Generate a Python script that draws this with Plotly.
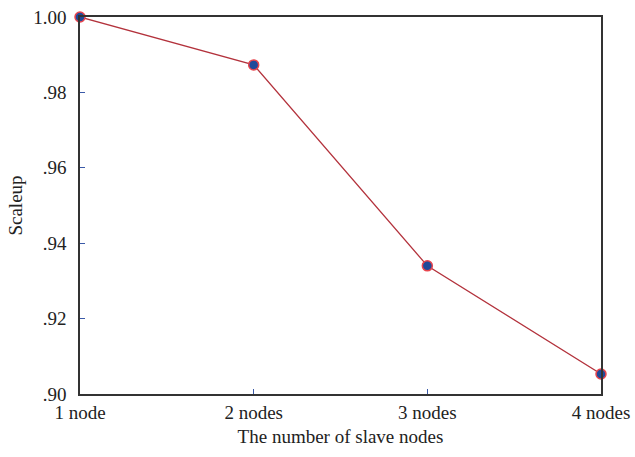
import plotly.graph_objects as go

# Scaleup measured for clusters with 1-4 slave nodes
node_counts = [1, 2, 3, 4]
node_labels = ["1 node", "2 nodes", "3 nodes", "4 nodes"]
scaleup = [1.000, 0.9873, 0.9340, 0.9053]

y_tick_vals = [0.90, 0.92, 0.94, 0.96, 0.98, 1.00]
y_tick_text = [".90", ".92", ".94", ".96", ".98", "1.00"]

FONT = "Liberation Serif, Times New Roman, serif"
TICK_BLUE = "#3a5aa8"
SIZE = 19

fig = go.Figure()

fig.add_trace(go.Scatter(
    x=node_counts, y=scaleup,
    mode="lines+markers",
    line=dict(color="#b3323c", width=1.3),
    marker=dict(size=10, color="#1f4a9a", line=dict(color="#e8454d", width=1.5)),
    cliponaxis=False,
    showlegend=False,
))

fig.update_layout(
    width=635, height=457,
    margin=dict(l=80, r=34, t=17, b=63),
    paper_bgcolor="white", plot_bgcolor="white",
    font=dict(family=FONT, size=SIZE, color="#222222"),
    xaxis=dict(
        range=[1, 4], automargin=False,
        tickvals=node_counts, ticktext=node_labels,
        ticks="inside", ticklen=5, tickwidth=1.2, tickcolor=TICK_BLUE,
        showgrid=False, zeroline=False,
        showline=True, linecolor="#333333", linewidth=1.6, mirror=True,
        tickfont=dict(size=SIZE),
        ticklabelstandoff=0,
        title=dict(text="The number of slave nodes", font=dict(size=SIZE), standoff=8),
    ),
    yaxis=dict(
        range=[0.90, 1.00], automargin=False,
        tickvals=y_tick_vals, ticktext=y_tick_text,
        ticks="inside", ticklen=5, tickwidth=1.2, tickcolor=TICK_BLUE,
        showgrid=False, zeroline=False,
        showline=True, linecolor="#333333", linewidth=1.6, mirror=True,
        tickfont=dict(size=SIZE),
        ticklabelstandoff=8,
        title=dict(text="Scaleup", font=dict(size=SIZE), standoff=6),
    ),
)

fig.write_html("out.html")
